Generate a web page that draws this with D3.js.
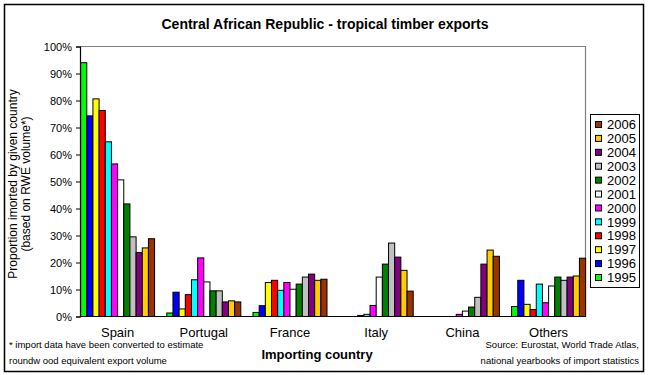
<!DOCTYPE html>
<html>
<head>
<meta charset="utf-8">
<script src="https://cdn.jsdelivr.net/npm/d3@7"></script>
<style>
    body { margin: 0; background: #fff; }
    svg { font-family: "Liberation Sans", Arial, sans-serif; }
</style>
</head>
<body>
<svg width="650" height="375"></svg>
<script>
const countries = ["Spain", "Portugal", "France", "Italy", "China", "Others"];
const years = ["1995", "1996", "1997", "1998", "1999", "2000", "2001", "2002", "2003", "2004", "2005", "2006"];
const yearColors = ["#00ff00", "#0000ff", "#ffff00", "#ff0000", "#00ffff", "#ff00ff",
                    "#ffffff", "#008000", "#c0c0c0", "#800080", "#ffcc00", "#993300"];

// share (%) per country, one array per year
const v1995 = [94.0, 1.3, 1.5, 0, 0, 3.7];
const v1996 = [74.3, 9.0, 4.0, 0, 0, 13.4];
const v1997 = [80.6, 2.8, 12.6, 0, 0, 4.5];
const v1998 = [76.3, 8.1, 13.4, 0.4, 0, 2.6];
const v1999 = [64.7, 13.6, 9.7, 0.8, 0, 12.0];
const v2000 = [56.5, 21.7, 12.6, 4.1, 0.8, 5.1];
const v2001 = [50.6, 12.8, 10.1, 14.6, 2.0, 11.3];
const v2002 = [41.7, 9.5, 12.0, 19.4, 3.5, 14.6];
const v2003 = [29.5, 9.5, 14.6, 27.2, 7.1, 13.4];
const v2004 = [23.7, 5.4, 15.7, 22.0, 19.4, 14.6];
const v2005 = [25.4, 5.8, 13.4, 17.1, 24.6, 15.0];
const v2006 = [28.8, 5.4, 13.8, 9.4, 22.3, 21.6];
const yTicks = [0, 10, 20, 30, 40, 50, 60, 70, 80, 90, 100];

const series = [v1995, v1996, v1997, v1998, v1999, v2000, v2001, v2002, v2003, v2004, v2005, v2006];

const svg = d3.select("svg");

const area = { left: 80, top: 46.5, right: 585.5, bottom: 316.5 };

// outer frame
svg.append("rect")
    .attr("x", 4.5).attr("y", 4.5)
    .attr("width", 639).attr("height", 367)
    .attr("fill", "#fff").attr("stroke", "#000").attr("stroke-width", 1.5);

svg.append("text")
    .attr("x", 325).attr("y", 29)
    .attr("text-anchor", "middle")
    .style("font-size", "14px").style("font-weight", "bold")
    .text("Central African Republic - tropical timber exports");

// plot area border (top and right in gray)
svg.append("path")
    .attr("d", `M${area.left},${area.top}H${area.right}V${area.bottom}`)
    .attr("fill", "none").attr("stroke", "#808080").attr("stroke-width", 1.2);

const scaleY = d3.scaleLinear()
    .domain([0, 100])
    .range([area.bottom, area.top]);

const groupW = 86.2;
const scaleX = d3.scaleBand()
    .domain(countries)
    .range([80.6, 80.6 + groupW * countries.length])
    .padding(0);

const scaleYear = d3.scaleBand()
    .domain(years)
    .range([0, 74]);

// bars
years.forEach((yr, i) => {
    svg.append("g")
        .selectAll("rect")
        .data(countries.map((c, j) => ({ c: c, v: series[i][j] })).filter(d => d.v > 0))
        .enter()
        .append("rect")
        .attr("x", d => scaleX(d.c) + scaleYear(yr))
        .attr("y", d => scaleY(d.v))
        .attr("width", scaleYear.bandwidth())
        .attr("height", d => area.bottom - scaleY(d.v))
        .attr("fill", yearColors[i])
        .attr("stroke", "#000")
        .attr("stroke-width", 1);
});

// y axis
const axisY = d3.axisLeft(scaleY)
    .tickValues(yTicks)
    .tickSize(4)
    .tickFormat(d => d + "%");

const gy = svg.append("g")
    .attr("transform", `translate(${area.left},0)`)
    .call(axisY);
gy.select(".domain").attr("stroke", "#000").attr("stroke-width", 1.2);
gy.selectAll("text")
    .style("font-size", "11px")
    .style("font-family", "'Liberation Sans', Arial, sans-serif")
    .attr("fill", "#000")
    .attr("x", -8);

// x axis line and labels
svg.append("line")
    .attr("x1", area.left).attr("x2", area.right)
    .attr("y1", area.bottom).attr("y2", area.bottom)
    .attr("stroke", "#000").attr("stroke-width", 1.2);

svg.append("g")
    .selectAll("text")
    .data(countries)
    .enter()
    .append("text")
    .attr("x", d => scaleX(d) + 37)
    .attr("y", 337)
    .attr("text-anchor", "middle")
    .style("font-size", "13px")
    .text(d => d);

// y title
const yTitle = svg.append("text")
    .attr("transform", "translate(17,184) rotate(-90)")
    .attr("text-anchor", "middle")
    .style("font-size", "12px");
yTitle.append("tspan").attr("x", 0).attr("y", 0).text("Proportion imorted by given country");
yTitle.append("tspan").attr("x", 0).attr("y", 13).text("(based on RWE volume*)");

svg.append("text")
    .attr("x", 317).attr("y", 359)
    .attr("text-anchor", "middle")
    .style("font-size", "13px").style("font-weight", "bold")
    .text("Importing country");

// footnotes
const note = svg.append("g").style("font-size", "9.5px");
note.append("text").attr("x", 9).attr("y", 348).text("* import data have been converted to estimate");
note.append("text").attr("x", 9).attr("y", 364).text("roundw ood equivalent export volume");
note.append("text").attr("x", 639).attr("y", 348).attr("text-anchor", "end").text("Source:  Eurostat, World Trade Atlas,");
note.append("text").attr("x", 639).attr("y", 364).attr("text-anchor", "end").text("national yearbooks of import statistics");

// legend
const legend = svg.append("g");
legend.append("rect")
    .attr("x", 590.5).attr("y", 114.5)
    .attr("width", 49).attr("height", 173)
    .attr("fill", "#fff").attr("stroke", "#000").attr("stroke-width", 1);

const legendYears = years.slice().reverse();
const legendColors = yearColors.slice().reverse();
const scaleLeg = d3.scalePoint()
    .domain(legendYears)
    .range([124.5, 277.5]);

legend.selectAll(".sw")
    .data(legendYears)
    .enter()
    .append("rect")
    .attr("class", "sw")
    .attr("x", 595.5)
    .attr("y", d => scaleLeg(d) - 3)
    .attr("width", 6).attr("height", 6)
    .attr("fill", (d, i) => legendColors[i])
    .attr("stroke", "#000");

legend.selectAll(".lt")
    .data(legendYears)
    .enter()
    .append("text")
    .attr("class", "lt")
    .attr("x", 607)
    .attr("y", d => scaleLeg(d) + 4.7)
    .style("font-size", "13px")
    .text(d => d);
</script>
</body>
</html>
